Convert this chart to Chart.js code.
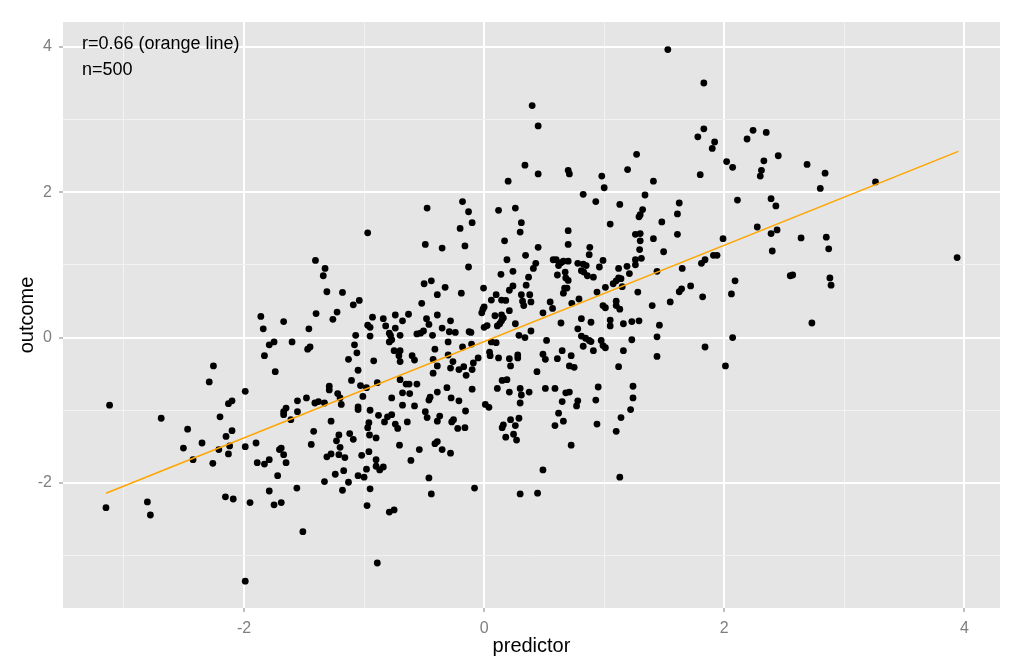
<!DOCTYPE html>
<html>
<head>
<meta charset="utf-8">
<script src="https://cdn.jsdelivr.net/npm/chart.js@4.4.1/dist/chart.umd.min.js"></script>
<style>
  body { margin: 0; background: #fff; }
</style>
</head>
<body>
<canvas id="myChart" width="1024" height="670"></canvas>
<script>
// predictor / outcome pairs
const points = [
  [0.40,3.19],[0.45,2.91],[0.34,2.37],[0.45,2.25],[0.20,2.15],[-0.18,1.87],[-0.475,1.78],[-0.13,1.73],[0.12,1.75],[0.26,1.78],
  [1.53,3.96],[1.83,3.50],[1.83,2.87],[1.78,2.76],[1.92,2.69],[1.90,2.60],[2.02,2.42],[2.07,2.34],[1.80,2.24],[2.19,2.73],
  [2.24,2.85],[2.35,2.82],[2.33,2.43],[2.31,2.30],[2.30,2.22],[2.45,2.50],[2.11,1.89],[2.39,1.91],[2.43,1.81],[0.70,2.30],
  [0.71,2.25],[0.98,2.22],[1.00,2.06],[0.825,1.97],[0.93,1.87],[1.13,1.83],[1.195,2.31],[1.27,2.52],[1.41,2.15],[1.34,1.96],
  [1.32,1.76],[1.30,1.69],[1.625,1.85],[1.61,1.70],
  [2.69,2.38],[2.84,2.26],[2.80,2.05],[3.26,2.14],
  [-1.86,0.29],[-1.67,0.22],[-1.84,0.12],[-1.79,-0.10],[-1.75,-0.06],[-1.60,-0.06],[-1.83,-0.25],[-1.74,-0.47],[-2.255,-0.39],[-2.29,-0.61],
  [-1.99,-0.74],[-2.10,-0.87],[-2.13,-0.91],[-3.12,-0.93],[-1.555,-0.87],[-1.65,-0.97],[-1.67,-1.02],[-1.555,-1.02],
  [-2.69,-1.11],[-2.20,-1.09],[-2.47,-1.26],[-2.10,-1.28],[-2.15,-1.36],[-2.505,-1.52],[-2.35,-1.45],[-2.21,-1.54],[-2.12,-1.49],[-2.13,-1.60],
  [-2.425,-1.68],[-2.26,-1.73],[-1.99,-1.50],[-1.90,-1.45],[-1.89,-1.72],[-1.83,-1.74],[-1.79,-1.68],[-1.705,-1.54],[-1.69,-1.52],[-1.67,-1.61],
  [-1.65,-1.72],[-1.72,-1.90],[-1.61,-1.13],[-1.67,-1.06],[-1.56,-2.07],[-1.79,-2.11],[-1.75,-2.30],[-1.69,-2.27],[-1.95,-2.27],[-2.155,-2.19],
  [-2.09,-2.22],[-2.805,-2.26],[-2.78,-2.44],[-3.15,-2.34],[-1.99,-3.35],
  [-1.275,-1.15],[-1.42,-1.29],[-1.44,-1.47],[-1.21,-1.34],[-1.23,-1.42],[-1.12,-1.32],[-1.09,-1.40],[-1.20,-1.51],[-1.31,-1.64],[-1.275,-1.60],
  [-1.21,-1.61],[-1.16,-1.65],[-1.24,-1.88],[-1.17,-1.83],[-1.33,-1.98],[-1.13,-1.99],[-1.18,-2.10],[-1.02,-1.62],[-0.96,-1.57],[-1.05,-1.90],
  [-1.00,-1.92],[-0.98,-1.81],[-0.90,-1.68],[-0.90,-1.77],[-0.87,-1.82],[-0.84,-1.78],[-0.95,-2.08],[-0.975,-2.31],[-0.79,-2.40],[-0.75,-2.37],
  [-0.89,-3.10],[-1.51,-2.67],[-0.96,-1.17],[-0.97,-1.24],[-0.955,-1.34],[-0.90,-1.38],[-0.88,-1.07],[-0.83,-1.16],[-0.805,-1.09],[-0.77,-1.06],
  [-0.74,-1.19],[-0.72,-1.25],[-0.64,-1.16],[-0.705,-1.48],[-0.61,-1.69],[-0.54,-1.54],[-0.475,-1.10],[-0.39,-1.15],[-0.37,-1.08],[-0.27,-1.16],
  [-0.255,-1.13],[-0.22,-1.25],[-0.16,-1.24],[-0.41,-1.46],[-0.39,-1.43],[-0.35,-1.54],[-0.28,-1.59],[-0.46,-1.93],[-0.44,-2.15],[-0.08,-2.07],
  [0.16,-1.20],[0.15,-1.24],[0.22,-1.13],[0.29,-1.11],[0.26,-1.21],[0.245,-1.33],[0.18,-1.37],[0.27,-1.41],[0.30,-2.15],[0.445,-2.14],
  [0.59,-1.21],[0.66,-1.15],[0.62,-1.04],[0.94,-1.19],[1.14,-1.10],[1.10,-1.29],[0.725,-1.48],[0.49,-1.82],[1.13,-1.92],
  [2.64,1.37],[2.85,1.38],[2.87,1.22],[3.94,1.10],[2.55,0.85],[2.57,0.86],[2.88,0.82],[2.89,0.72],[2.73,0.20],
  [1.05,1.56],[0.70,1.47],[0.70,1.28],[0.88,1.24],[0.875,1.14],[0.575,1.07],[0.60,1.07],[0.64,1.03],[0.66,1.05],[0.70,1.05],
  [0.62,0.99],[0.61,0.86],[0.675,0.90],[0.78,1.02],[0.825,1.01],[0.85,0.99],[0.81,0.92],[0.83,0.90],[0.86,0.85],[0.91,0.83],
  [0.96,0.97],[0.99,1.06],[0.68,0.82],[0.70,0.785],[0.67,0.68],[0.66,0.61],[0.69,0.68],[0.55,0.49],[0.57,0.40],[0.49,0.34],
  [0.73,0.47],[0.79,0.53],[0.94,0.625],[1.01,0.69],[1.075,0.74],[1.10,0.78],[1.14,0.81],[1.15,0.70],[1.12,0.82],[1.12,0.95],
  [1.19,0.98],[1.21,0.88],[1.26,1.07],[1.26,1.00],[1.31,1.09],[1.295,1.21],[1.30,1.33],[1.26,1.42],[1.30,1.43],[1.29,1.66],
  [1.48,1.59],[1.41,1.36],[1.495,1.18],[1.61,1.42],[1.44,0.91],[1.65,0.95],[1.28,0.625],[0.99,0.44],[1.01,0.41],[1.10,0.50],
  [1.10,0.44],[1.13,0.39],[1.40,0.44],[1.55,0.49],[1.625,0.63],[1.645,0.67],[1.72,0.71],[1.82,0.56],[1.81,1.02],[1.84,1.07],
  [1.91,1.13],[1.94,1.13],[1.99,1.36],[2.275,1.52],[2.39,1.43],[2.44,1.48],[2.40,1.19],[2.09,0.78],[2.06,0.60],[2.07,0.00],
  [1.84,-0.13],[2.01,-0.39],[1.44,0.01],[1.46,0.17],[1.44,-0.26],[0.64,0.20],[0.81,0.26],[0.89,0.21],[0.78,0.12],[1.05,0.24],
  [1.05,0.16],[1.16,0.19],[1.23,0.22],[1.29,0.23],[1.23,-0.03],[0.81,0.02],[0.845,-0.01],[0.875,-0.04],[0.89,-0.055],[0.975,-0.04],
  [0.99,-0.11],[1.01,-0.14],[0.91,-0.18],[0.825,-0.12],[0.52,-0.04],[0.49,-0.23],[0.51,-0.30],[0.61,-0.29],[0.65,-0.18],[0.725,-0.25],
  [0.71,-0.39],[0.75,-0.41],[1.16,-0.18],[1.12,-0.40],[0.51,-0.70],[0.59,-0.70],[0.68,-0.76],[0.71,-0.75],[0.65,-0.88],[0.78,-0.87],
  [0.77,-0.94],[0.95,-0.68],[0.93,-0.86],[1.24,-0.67],[1.24,-0.83],[1.22,-0.99],
  [-0.97,1.44],[-1.405,1.06],[-1.325,0.95],[-1.34,0.85],[-1.31,0.63],[-1.18,0.62],[-1.40,0.33],[-1.225,0.35],[-1.26,0.25],[-1.09,0.45],
  [-1.04,0.51],[-1.46,0.12],[-1.47,-0.16],[-1.45,-0.13],[-1.07,0.03],[-1.08,-0.10],[-1.06,-0.21],[-1.13,-0.30],[-1.05,-0.45],[-1.105,-0.59],
  [-0.93,0.28],[-0.97,0.17],[-0.95,0.14],[-0.95,0.02],[-0.84,0.26],[-0.82,0.16],[-0.79,0.06],[-0.78,0.03],[-0.79,-0.06],[-0.77,-0.03],
  [-0.74,0.31],[-0.74,0.13],[-0.70,0.03],[-0.68,0.23],[-0.63,0.32],[-0.75,-0.18],[-0.70,-0.18],[-0.71,-0.25],[-0.70,-0.33],[-0.60,-0.25],
  [-0.58,-0.31],[-0.92,-0.32],[-0.89,-0.62],[-1.03,-0.66],[-0.98,-0.69],[-1.01,-0.81],[-1.29,-0.67],[-1.29,-0.72],[-1.22,-0.77],[-1.20,-0.83],
  [-1.19,-0.92],[-1.48,-0.83],[-1.41,-0.90],[-1.38,-0.88],[-1.33,-0.90],[-1.05,-0.955],[-1.05,-0.99],[-0.95,-1.00],[-0.77,-0.83],[-0.70,-0.58],
  [-0.68,-0.76],[-0.65,-0.64],[-0.625,-0.64],[-0.62,-0.77],[-0.56,-0.64],[-0.68,-0.93],[-0.58,-0.94],[-0.49,1.28],[-0.35,1.23],[-0.50,0.74],
  [-0.44,0.78],[-0.39,0.59],[-0.325,0.69],[-0.52,0.47],[-0.48,0.26],[-0.46,0.18],[-0.39,0.31],[-0.35,0.13],[-0.28,0.23],[-0.29,0.08],
  [-0.24,0.07],[-0.56,0.05],[-0.53,0.06],[-0.505,0.09],[-0.43,0.03],[-0.30,-0.06],[-0.41,-0.16],[-0.425,-0.30],[-0.39,-0.39],[-0.425,-0.49],
  [-0.30,-0.24],[-0.26,-0.33],[-0.28,-0.42],[-0.21,-0.44],[-0.17,-0.40],[-0.15,-0.52],[-0.18,-0.13],[-0.105,-0.09],[-0.125,0.08],[-0.11,0.07],
  [-0.09,-0.35],[-0.10,-0.44],[-0.05,-0.28],[-0.19,0.61],[-0.13,0.97],[-0.16,1.26],[-0.20,1.50],[-0.10,1.58],[-0.31,-0.69],[-0.39,-0.75],
  [-0.45,-0.82],[-0.46,-0.86],[-0.275,-0.83],[-0.21,-0.87],[-0.10,-0.71],[-0.49,-1.02],[-0.155,-1.01],[0.01,-0.92],[0.04,-0.96],[0.11,-0.70],
  [0.15,-0.59],[0.19,-0.58],[0.30,-0.70],[0.31,-0.79],[0.30,-0.90],[0.375,-0.75],[0.21,-0.75],[0.12,-0.28],[0.05,-0.25],[0.045,-0.20],
  [0.21,-0.29],[0.22,-0.39],[0.28,-0.24],[0.28,-0.28],[0.44,-0.47],[0.06,-0.06],[0.10,-0.07],[0.29,0.03],[0.34,0.00],[0.39,0.09],
  [0.26,0.19],[0.00,0.14],[0.025,0.165],[0.11,0.16],[0.13,0.19],[0.145,0.23],[0.16,0.27],[0.09,0.30],[0.145,0.31],[0.21,0.37],
  [-0.02,0.34],[-0.01,0.39],[0.00,0.42],[0.06,0.515],[0.10,0.59],[0.145,0.515],[0.18,0.51],[-0.005,0.68],[0.21,0.65],[0.24,0.71],
  [0.31,0.59],[0.38,0.59],[0.32,0.50],[0.33,0.44],[0.39,0.49],[0.35,0.72],[0.37,0.83],[0.24,0.91],[0.14,0.87],[0.19,1.07],
  [0.345,1.13],[0.41,0.95],[0.43,1.02],[0.45,1.24],[0.17,1.33],[0.30,1.45],[0.31,1.58]
];

// fitted line end points
const fitX = [-3.15, 3.95];
const fitY = [-2.14, 2.56];

const xLabels = [-2, 0, 2, 4];
const yLabels = [-2, 0, 2, 4];
const notes = ['r=0.66 (orange line)', 'n=500'];

const panelBg = {
  id: 'panelBg',
  beforeDraw(chart) {
    const { ctx, chartArea: a } = chart;
    ctx.save();
    ctx.fillStyle = '#e5e5e5';
    ctx.fillRect(a.left, a.top, a.right - a.left, a.bottom - a.top);
    ctx.restore();
  },
  afterDatasetsDraw(chart) {
    const { ctx } = chart;
    ctx.save();
    ctx.fillStyle = '#000';
    ctx.font = '18px "Liberation Sans", Arial, sans-serif';
    ctx.textBaseline = 'alphabetic';
    ctx.fillText(notes[0], 82, 49);
    ctx.fillText(notes[1], 82, 75);
    ctx.restore();
  }
};

const isMajor = v => Math.abs(v) % 2 === 0;

const ctx = document.getElementById('myChart').getContext('2d');

const myChart = new Chart(ctx, {
  type: 'scatter',
  data: {
    datasets: [
      {
        label: 'points',
        data: points.map(p => ({ x: p[0], y: p[1] })),
        backgroundColor: '#000',
        borderWidth: 0,
        pointRadius: 3.4,
        order: 2
      },
      {
        type: 'line',
        label: 'fit',
        data: fitX.map((x, i) => ({ x: x, y: fitY[i] })),
        borderColor: '#ffa500',
        borderWidth: 1.6,
        pointRadius: 0,
        fill: false,
        order: 1
      }
    ]
  },
  options: {
    responsive: false,
    animation: false,
    layout: { padding: { left: 0, top: 22, right: 24, bottom: 0 } },
    plugins: { legend: { display: false }, tooltip: { enabled: false } },
    scales: {
      x: {
        type: 'linear',
        min: -3.508,
        max: 4.297,
        afterFit(s) { s.height = 62; },
        border: { display: false },
        grid: {
          color: c => isMajor(c.tick.value) ? '#ffffff' : '#f2f2f2',
          lineWidth: c => isMajor(c.tick.value) ? 2 : 1,
          tickColor: c => isMajor(c.tick.value) ? '#7f7f7f' : 'rgba(0,0,0,0)',
          tickLength: 4,
          tickWidth: 1
        },
        ticks: {
          stepSize: 1,
          includeBounds: false,
          autoSkip: false,
          maxRotation: 0,
          padding: 7,
          color: '#7f7f7f',
          font: { family: '"Liberation Sans", Arial, sans-serif', size: 16 },
          callback: v => xLabels.includes(v) ? String(v) : ''
        },
        title: {
          display: true,
          text: 'predictor',
          color: '#000',
          font: { family: '"Liberation Sans", Arial, sans-serif', size: 20 },
          padding: { bottom: 12 }
        }
      },
      y: {
        type: 'linear',
        min: -3.719,
        max: 4.339,
        afterFit(s) { s.width = 63; },
        border: { display: false },
        grid: {
          color: c => isMajor(c.tick.value) ? '#ffffff' : '#f2f2f2',
          lineWidth: c => isMajor(c.tick.value) ? 2 : 1,
          tickColor: c => isMajor(c.tick.value) ? '#7f7f7f' : 'rgba(0,0,0,0)',
          tickLength: 4,
          tickWidth: 1
        },
        ticks: {
          stepSize: 1,
          includeBounds: false,
          autoSkip: false,
          padding: 7,
          color: '#7f7f7f',
          font: { family: '"Liberation Sans", Arial, sans-serif', size: 16 },
          callback: v => yLabels.includes(v) ? String(v) : ''
        },
        title: {
          display: true,
          text: 'outcome',
          color: '#000',
          font: { family: '"Liberation Sans", Arial, sans-serif', size: 20 },
          padding: { top: 15 }
        }
      }
    }
  },
  plugins: [panelBg]
});
</script>
</body>
</html>
